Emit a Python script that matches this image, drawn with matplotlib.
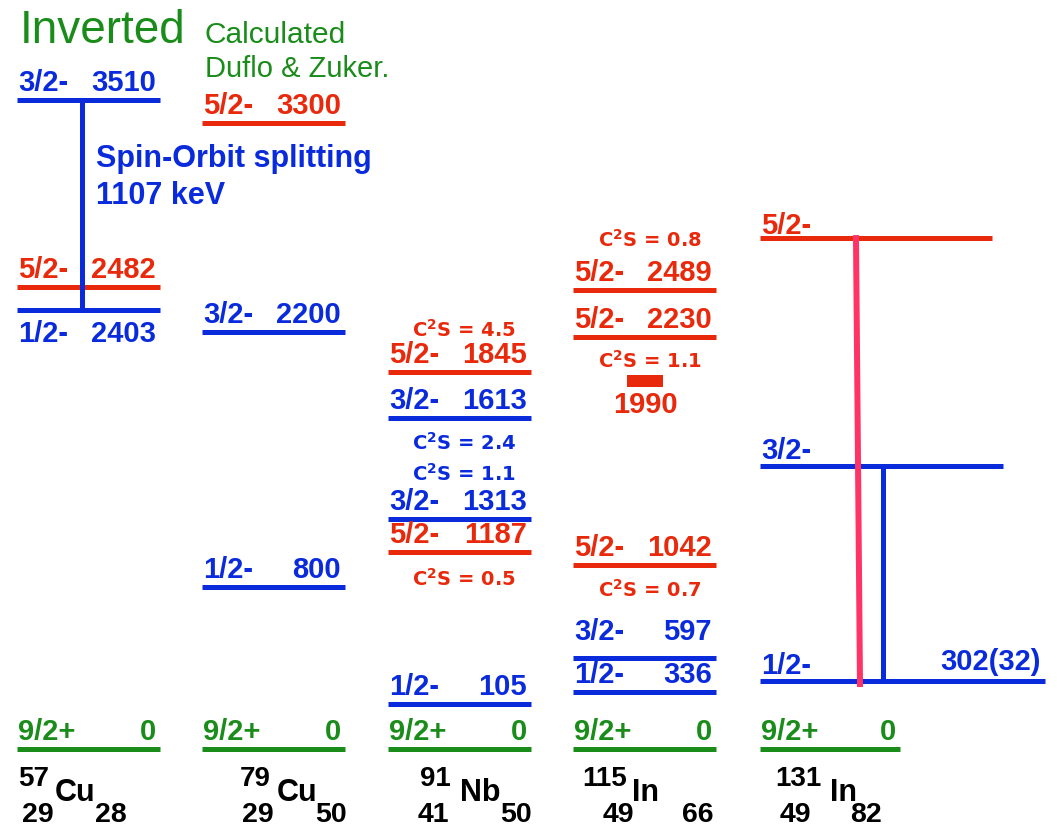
import matplotlib.pyplot as plt

plt.rcParams['font.family'] = ['Liberation Sans', 'DejaVu Sans']
plt.rcParams['mathtext.fontset'] = 'dejavusans'

BLUE = '#0a2bdc'
RED = '#e8290c'
GREEN = '#1a8c1a'
PINK = '#ff3366'
spin_color = {'9/2+': GREEN, '1/2-': BLUE, '3/2-': BLUE, '5/2-': RED}

# nuclei
mass = ['57', '79', '91', '115', '131']
symbol = ['Cu', 'Cu', 'Nb', 'In', 'In']
proton = ['29', '29', '41', '49', '49']
neutron = ['28', '50', '50', '66', '82']

# levels: spin, energy label (keV), height on the drawing (keV scale, schematic)
cu57_spin = ['9/2+', '1/2-', '5/2-', '3/2-']
cu57_energy = ['0', '2403', '2482', '3510']
cu57_height = [0, 2311, 2432, 3416]

cu79_spin = ['9/2+', '1/2-', '3/2-', '5/2-']
cu79_energy = ['0', '800', '2200', '3300']
cu79_height = [0, 853, 2195, 3295]

nb91_spin = ['9/2+', '1/2-', '5/2-', '3/2-', '3/2-', '5/2-']
nb91_energy = ['0', '105', '1187', '1313', '1613', '1845']
nb91_height = [0, 237, 1037, 1211, 1742, 1984]

in115_spin = ['9/2+', '1/2-', '3/2-', '5/2-', '5/2-', '5/2-']
in115_energy = ['0', '336', '597', '1042', '2230', '2489']
in115_height = [0, 300, 479, 968, 2168, 2416]

in131_spin = ['9/2+', '1/2-', '3/2-', '5/2-']
in131_energy = ['0', '302(32)', '', '']
in131_height = [0, 358, 1489, 2689]

# spectroscopic factors, attached to a level (index into the level lists)
nb91_c2s = ['4.5', '2.4', '1.1', '0.5']
nb91_c2s_level = [5, 4, 3, 2]
in115_c2s = ['0.8', '1.1', '0.7']
in115_c2s_level = [5, 4, 3]

# fragment without spin assignment in 115In
in115_frag_energy = '1990'
in115_frag_height = 1937

# drawing scale: pixels per keV and pixel row of the ground state
PX = 0.19
Y0 = 749
W, H = 1057, 827

fig = plt.figure(figsize=(W / 100, H / 100), dpi=100)
ax = fig.add_axes([0, 0, 1, 1])
ax.set_xlim(0, W)
ax.set_ylim(-(H - Y0) / PX, Y0 / PX)
ax.axis('off')


def h(ypx):
    return (Y0 - ypx) / PX


def pt(px):
    return px * 0.72


col_left = [17, 202, 388, 573, 760]
col_w = 143
lw = 3.6
fs = 21

columns = [
    (cu57_spin, cu57_energy, cu57_height),
    (cu79_spin, cu79_energy, cu79_height),
    (nb91_spin, nb91_energy, nb91_height),
    (in115_spin, in115_energy, in115_height),
    (in131_spin, in131_energy, in131_height),
]
in131_right = [900, 1045, 1003, 992]
# label gap above the line (px), where it differs from the default
gap = {(0, 1): -32, (3, 2): 18, (4, 1): 7, (4, 2): 7, (4, 3): 4}

for i, (spins, energies, heights) in enumerate(columns):
    x0 = col_left[i]
    for j, (s, e, y) in enumerate(zip(spins, energies, heights)):
        x1 = in131_right[j] if i == 4 else x0 + col_w
        c = spin_color[s]
        ax.plot([x0, x1], [y, y], color=c, lw=lw, solid_capstyle='butt')
        dy = pt(gap.get((i, j), 9))
        ax.annotate(s, xy=(x0 + 1, y), xytext=(0, dy), textcoords='offset points',
                    ha='left', va='baseline', color=c, fontsize=fs, fontweight='bold')
        if e:
            edy = pt(11) if (i, j) == (4, 1) else dy
            ax.annotate(e, xy=(x1 - 4, y), xytext=(0, edy), textcoords='offset points',
                        ha='right', va='baseline', color=c, fontsize=fs, fontweight='bold')

# C2S labels
c2s_kw = dict(textcoords='offset points', ha='center', va='baseline', fontsize=14,
              fontweight='bold', family='DejaVu Sans')
nb_off = [35, -32, 38, -34]
for v, k, o in zip(nb91_c2s, nb91_c2s_level, nb_off):
    ax.annotate(r'C$^\mathbf{2}$S = ' + v, xy=(464, nb91_height[k]), xytext=(0, pt(o)),
                color=spin_color[nb91_spin[k]], **c2s_kw)
in_off = [43, -31, -32]
for v, k, o in zip(in115_c2s, in115_c2s_level, in_off):
    ax.annotate(r'C$^\mathbf{2}$S = ' + v, xy=(650, in115_height[k]), xytext=(0, pt(o)),
                color=spin_color[in115_spin[k]], **c2s_kw)

# 1990 fragment
ax.plot([627, 663], [in115_frag_height] * 2, color=RED, lw=pt(12), solid_capstyle='butt')
ax.annotate(in115_frag_energy, xy=(645, in115_frag_height), xytext=(0, pt(-32)),
            textcoords='offset points', ha='center', va='baseline', color=RED,
            fontsize=fs, fontweight='bold')

# spin-orbit partners
ax.plot([82, 82], [cu57_height[3], cu57_height[1] - 2], color=BLUE, lw=lw)
ax.plot([883, 883], [in131_height[2], in131_height[1]], color=BLUE, lw=lw)
ax.plot([856, 860], [in131_height[3], in131_height[1] - 16], color=PINK, lw=pt(6))

# titles
ax.text(20, h(43), 'Inverted', color=GREEN, fontsize=33, ha='left', va='baseline')
ax.text(205, h(43), 'Calculated', color=GREEN, fontsize=21.5, ha='left', va='baseline')
ax.text(205, h(77), 'Duflo & Zuker.', color=GREEN, fontsize=21, ha='left', va='baseline')
ax.text(96, h(167), 'Spin-Orbit splitting', color=BLUE, fontsize=22, fontweight='bold',
        ha='left', va='baseline')
ax.text(96, h(204), '1107 keV', color=BLUE, fontsize=22, fontweight='bold',
        ha='left', va='baseline')

# nuclide labels
mass_x = [18, 240, 420, 582, 775]
sym_x = [55, 277, 460, 632, 830]
z_x = [22, 242, 418, 603, 780]
n_x = [95, 315, 500, 682, 850]
for i in range(5):
    ax.text(mass_x[i], h(786), mass[i], color='black', fontsize=20, fontweight='bold',
            ha='left', va='baseline')
    ax.text(sym_x[i], h(801), symbol[i], color='black', fontsize=22, fontweight='bold',
            ha='left', va='baseline')
    ax.text(z_x[i], h(822), proton[i], color='black', fontsize=20.5, fontweight='bold',
            ha='left', va='baseline')
    ax.text(n_x[i], h(822), neutron[i], color='black', fontsize=20.5, fontweight='bold',
            ha='left', va='baseline')

fig.savefig('out.png', dpi=100)
